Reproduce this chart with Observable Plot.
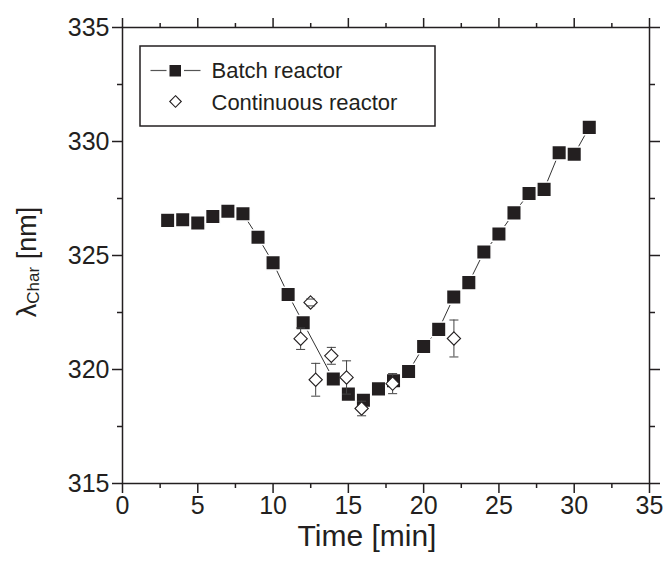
<!DOCTYPE html>
<html>
<head>
<meta charset="utf-8">
<script src="https://cdn.jsdelivr.net/npm/d3@7"></script>
<script src="https://cdn.jsdelivr.net/npm/@observablehq/plot@0.6"></script>
<style>
  html, body { margin: 0; padding: 0; background: white; }
  #chart { position: relative; width: 666px; height: 563px; }
</style>
</head>
<body>
<div id="chart"></div>
<script>
// Batch reactor (time in min, lambda_char in nm)
const batchTime = [3,4,5,6,7,8,9,10,11,12,14,15,16,17,18,19,20,21,22,23,24,25,26,27,28,29,30,31];
const batchLambda = [326.54,326.57,326.43,326.71,326.94,326.83,325.80,324.68,323.29,322.05,319.58,318.92,318.65,319.15,319.51,319.91,321.01,321.76,323.18,323.81,325.15,325.94,326.87,327.72,327.90,329.51,329.44,330.62];

// Continuous reactor with error bars
const contTime = [11.83,12.49,12.83,13.87,14.88,15.88,17.94,22.01];
const contLambda = [321.35,322.94,319.55,320.60,319.65,318.29,319.38,321.36];
const contError = [0.47,0.15,0.72,0.37,0.73,0.32,0.44,0.81];

// Axis ticks
const xMajor = [0,5,10,15,20,25,30,35];
const xMinor = [2.5,7.5,12.5,17.5,22.5,27.5,32.5];
const yMajor = [315,320,325,330,335];
const yMinor = [317.5,322.5,327.5,332.5];

const legendLabels = ["Batch reactor", "Continuous reactor"];
const xLabel = "Time [min]";

const batch = batchTime.map((t, i) => ({t, v: batchLambda[i]}));
const cont = contTime.map((t, i) => ({t, v: contLambda[i], e: contError[i]}));

const ink = "#231f20";
const font = "'Liberation Sans', Arial, Helvetica, sans-serif";
const blank = () => "";

const chart = Plot.plot({
  width: 666,
  height: 563,
  marginLeft: 122,
  marginRight: 17,
  marginTop: 27,
  marginBottom: 80,
  x: {domain: [0, 35]},
  y: {domain: [315, 335]},
  style: {fontFamily: font, color: ink, background: "white", overflow: "visible"},
  marks: [
    // axes: major/minor ticks outward on all sides
    Plot.axisX({ticks: xMajor, tickSize: 10, tickPadding: 3, fontSize: 25, label: null, strokeWidth: 1.5}),
    Plot.axisX({ticks: xMinor, tickSize: 5, tickFormat: blank, label: null, strokeWidth: 1.5}),
    Plot.axisX({anchor: "top", ticks: xMajor, tickSize: 10, tickFormat: blank, label: null, strokeWidth: 1.5}),
    Plot.axisX({anchor: "top", ticks: xMinor, tickSize: 5, tickFormat: blank, label: null, strokeWidth: 1.5}),
    Plot.axisY({ticks: yMajor, tickSize: 10, tickPadding: 3, fontSize: 25, label: null, strokeWidth: 1.5}),
    Plot.axisY({ticks: yMinor, tickSize: 5, tickFormat: blank, label: null, strokeWidth: 1.5}),
    Plot.axisY({anchor: "right", ticks: yMajor, tickSize: 10, tickFormat: blank, label: null, strokeWidth: 1.5}),
    Plot.axisY({anchor: "right", ticks: yMinor, tickSize: 5, tickFormat: blank, label: null, strokeWidth: 1.5}),
    Plot.frame({stroke: ink, strokeWidth: 1.5}),
    // batch reactor line + squares
    Plot.line(batch, {x: "t", y: "v", stroke: "#333", strokeWidth: 1}),
    Plot.dot(batch, {x: "t", y: "v", symbol: "square", r: 8.2, fill: ink, stroke: "white", strokeWidth: 1.5}),
    // continuous reactor: error bars + diamonds
    Plot.ruleX(cont, {x: "t", y1: d => d.v - d.e, y2: d => d.v + d.e, stroke: "#444", strokeWidth: 1}),
    Plot.dot(cont, {x: "t", y: "v", symbol: "diamond2", r: 6, fill: "white", stroke: ink, strokeWidth: 1.1}),
    Plot.link(cont, {x1: d => d.t - 0.3, x2: d => d.t + 0.3, y1: d => d.v - d.e, y2: d => d.v - d.e, stroke: "#444", strokeWidth: 1}),
    Plot.link(cont, {x1: d => d.t - 0.3, x2: d => d.t + 0.3, y1: d => d.v + d.e, y2: d => d.v + d.e, stroke: "#444", strokeWidth: 1}),
    // x label
    Plot.text([xLabel], {frameAnchor: "bottom", dx: -19, dy: 62, fontSize: 30, fill: ink})
  ]
});

document.getElementById("chart").appendChild(chart);

const svg = d3.select(chart);

// y-axis label with subscript
const yl = svg.append("text")
  .attr("transform", "translate(36,262) rotate(-90)")
  .attr("text-anchor", "middle")
  .attr("font-family", font)
  .attr("font-size", 27)
  .attr("fill", ink);
yl.append("tspan").text("λ");
yl.append("tspan").attr("font-size", 17).attr("dy", 3).text("Char");
yl.append("tspan").attr("dy", -3).text(" [nm]");

// legend
const lg = svg.append("g").attr("font-family", font).attr("fill", ink).attr("text-anchor", "start");
lg.append("rect").attr("x", 140).attr("y", 46).attr("width", 295).attr("height", 80)
  .attr("fill", "white").attr("stroke", ink).attr("stroke-width", 1.5);
lg.append("line").attr("x1", 150.5).attr("x2", 166.5).attr("y1", 70.5).attr("y2", 70.5).attr("stroke", "#555").attr("stroke-width", 1.2);
lg.append("line").attr("x1", 184).attr("x2", 200.5).attr("y1", 70.5).attr("y2", 70.5).attr("stroke", "#555").attr("stroke-width", 1.2);
lg.append("rect").attr("x", 169.5).attr("y", 65).attr("width", 11.5).attr("height", 11.5).attr("fill", ink);
lg.append("path").attr("d", d3.symbol(d3.symbolDiamond2, 6 * 6 * Math.PI * 0.75)())
  .attr("transform", "translate(175.5,101.5)").attr("fill", "white").attr("stroke", ink).attr("stroke-width", 1.1);
lg.append("text").attr("x", 211.5).attr("y", 77.7).attr("font-size", 22).attr("text-anchor", "start").text(legendLabels[0]);
lg.append("text").attr("x", 211.5).attr("y", 110).attr("font-size", 22).attr("text-anchor", "start").text(legendLabels[1]);
</script>
</body>
</html>
